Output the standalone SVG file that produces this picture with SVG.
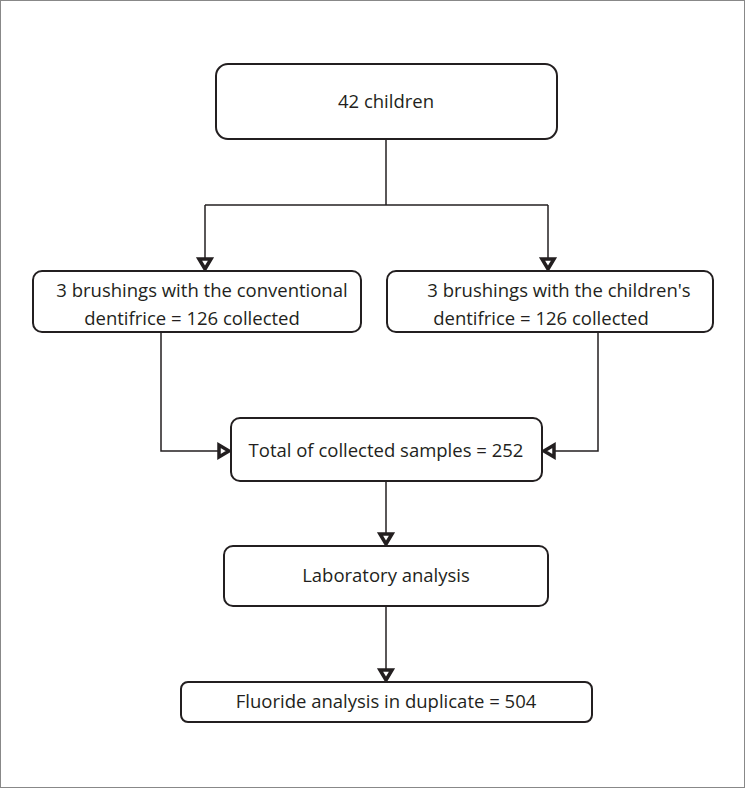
<svg xmlns="http://www.w3.org/2000/svg" width="745" height="788" viewBox="0 0 745 788">
<style>
.b{fill:#fff;stroke:#231f20;stroke-width:2}
.t{font-family:"Open Sans","Liberation Sans",sans-serif;font-size:18.5px;fill:#231f20;text-anchor:middle}
.c{fill:none;stroke:#231f20;stroke-width:1.5}
.a{fill:#fff;stroke:#231f20;stroke-width:3.5;stroke-linejoin:miter}
</style>
<rect x="0.5" y="0.5" width="744" height="787" fill="#fff" stroke="#888" stroke-width="1"/>
<g id="connectors">
<polyline class="c" points="386,139 386,205"/>
<polyline class="c" points="205,205 548,205"/>
<polyline class="c" points="205,205 205,258"/>
<polyline class="c" points="548,205 548,258"/>
<polyline class="c" points="161,332 161,451 218,451"/>
<polyline class="c" points="598,332 598,451 555,451"/>
<polyline class="c" points="386,481 386,533"/>
<polyline class="c" points="386,606 386,669"/>
<polygon class="a" points="199,259 211,259 205,269"/>
<polygon class="a" points="542,259 554,259 548,269"/>
<polygon class="a" points="380,534 392,534 386,544"/>
<polygon class="a" points="380,670 392,670 386,680"/>
<polygon class="a" points="219,445 219,457 229,451"/>
<polygon class="a" points="554,445 554,457 544,451"/>
</g>
<g id="n1"><rect class="b" x="216" y="64" width="341" height="75" rx="12"/><text class="t" x="386" y="108">42 children</text></g>
<g id="n2"><rect class="b" x="33" y="271" width="328" height="61" rx="9"/><text class="t" x="202" y="297">3 brushings with the conventional</text><text class="t" x="192" y="325">dentifrice  = 126 collected</text></g>
<g id="n3"><rect class="b" x="387" y="271" width="326" height="61" rx="9"/><text class="t" x="559" y="297">3 brushings with the children's</text><text class="t" x="541" y="325">dentifrice  = 126 collected</text></g>
<g id="n4"><rect class="b" x="231" y="418" width="311" height="63" rx="9"/><text class="t" x="386" y="457">Total of collected samples = 252</text></g>
<g id="n5"><rect class="b" x="224" y="546" width="324" height="60" rx="9"/><text class="t" x="386" y="582">Laboratory analysis</text></g>
<g id="n6"><rect class="b" x="181" y="682" width="411" height="40" rx="7"/><text class="t" x="386" y="708">Fluoride analysis in duplicate = 504</text></g>
</svg>
